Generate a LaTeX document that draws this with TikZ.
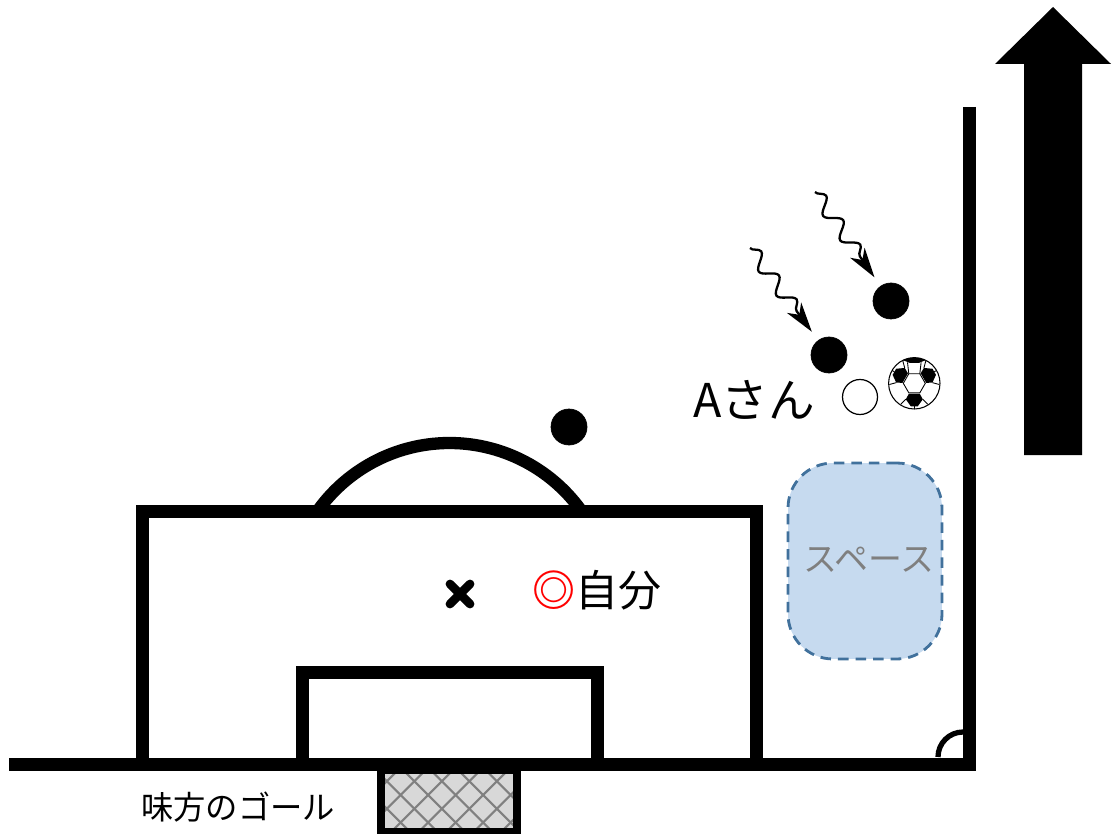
\documentclass[tikz,border=0pt]{standalone}
\usepackage{fontspec}
\setmainfont{Noto Sans CJK JP}
\usetikzlibrary{arrows.meta}
\usetikzlibrary{decorations.pathmorphing}
\definecolor{spaceblue}{RGB}{198,218,239}
\definecolor{spaceedge}{RGB}{65,113,156}
\definecolor{netgray}{RGB}{216,216,216}
\definecolor{textgray}{RGB}{127,127,127}

\begin{document}
\begin{tikzpicture}[x=0.02cm, y=0.02cm,
    fieldline/.style={line width=7.4pt, line join=miter},
    ballline/.style={line width=0.5pt},
    player/.style={draw, circle, fill=black, inner sep=0pt, minimum size=0.72cm},
    runline/.style={line width=1.3pt, -{Stealth[length=17pt, width=10pt, inset=5pt]}, shorten >=6pt,
        decorate, decoration={snake, amplitude=4pt, segment length=17pt, post length=15pt}}]
    \useasboundingbox (0,0) rectangle (1115,-834);

    % Goal with its net
    \fill[netgray] (381,-770) rectangle (517,-832);
    \begin{scope}
        \clip (381,-770) rectangle (517,-832);
        \foreach \k in {-3,...,6} {
            \draw[gray, line width=1.2pt] (375.7+27.5*\k,-770) -- ++(64,-64);
            \draw[gray, line width=1.2pt] (425.7+27.5*\k,-770) -- ++(-64,-64);
        }
    \end{scope}
    \draw[line width=4.5pt] (381,-770) rectangle (517,-832);

    % Field lines
    \draw[line width=7pt] (449.5,-605) ++(36:162) arc (36:144:162);
    \draw[fieldline] (969,-107) -- (969,-764) -- (9,-764);
    \draw[fieldline] (142,-764) -- (142,-511) -- (756,-511) -- (756,-764);
    \draw[fieldline] (302,-764) -- (302,-672) -- (597,-672) -- (597,-764);
    \draw[line width=3pt] (938,-757) arc (180:90:25);
    \draw[line width=5pt, line cap=round] (450,-584) -- (470,-604);
    \draw[line width=5pt, line cap=round] (450,-604) -- (470,-584);

    % Direction of play
    \fill (1053,-7) -- (1111,-64) -- (1082,-64) -- (1082,-455) -- (1024,-455) -- (1024,-64) -- (995,-64) -- cycle;

    % Players
    \node[player] (p0) at (569,-427) {};
    \node[player] (p1) at (829,-355) {};
    \node[player] (p2) at (891,-301) {};
    \node[draw, circle, fill=white, line width=0.7pt, inner sep=0pt, minimum size=0.7cm] (a) at (860,-397) {};
    \node[font=\fontsize{26.5}{27}\selectfont, inner sep=0pt] (alabel) at (754,-400) {Aさん};
    \node[font=\fontsize{24.5}{25}\selectfont, inner sep=0pt] (me) at (597,-590) {\textcolor{red}{\textbf{◎}}自分};

    \coordinate (w1) at (750,-248);
    \coordinate (w2) at (815,-192);
    \draw[runline] (w1) -- (p1);
    \draw[runline] (w2) -- (p2);

    % Ball
    \begin{scope}[shift={(914.3,-383.3)}]
        \draw[fill=white, line width=0.6pt] (0,0) circle (25.7);
        \draw[ballline] (0:11) -- (60:11) -- (120:11) -- (180:11) -- (240:11) -- (300:11) -- cycle;
        \foreach \a in {30,150,270} {
            \fill[rotate=\a] (10.5,-5.5) -- (16,-8.5) -- (23,-3.5) -- (23,3.5) -- (16,8.5) -- (10.5,5.5) -- cycle;
            \draw[ballline, rotate=\a] (16,8.5) -- (21,13.5);
            \draw[ballline, rotate=\a] (16,-8.5) -- (21,-13.5);
            \draw[ballline, rotate=\a] (23,0) -- (25.7,0);
        }
        \fill (64:25.7) arc (64:116:25.7) -- (103:21) -- (77:21) -- cycle;
        \draw[ballline] (60:11) -- (72:22);
        \draw[ballline] (120:11) -- (108:22);
    \end{scope}

    % Free space
    \node[draw=spaceedge, dash pattern=on 6pt off 4pt, line width=1.6pt, fill=spaceblue, rounded corners=0.9cm, minimum width=3.08cm, minimum height=3.92cm] (space) at (865,-561) {};
    \node[text=textgray, font=\fontsize{19.3}{20}\selectfont, inner sep=0pt] (spacelabel) at (869,-560) {スペース};

    \node[font=\fontsize{18.4}{20}\selectfont, inner sep=0pt] (goal) at (238,-807) {味方のゴール};
\end{tikzpicture}
\end{document}
